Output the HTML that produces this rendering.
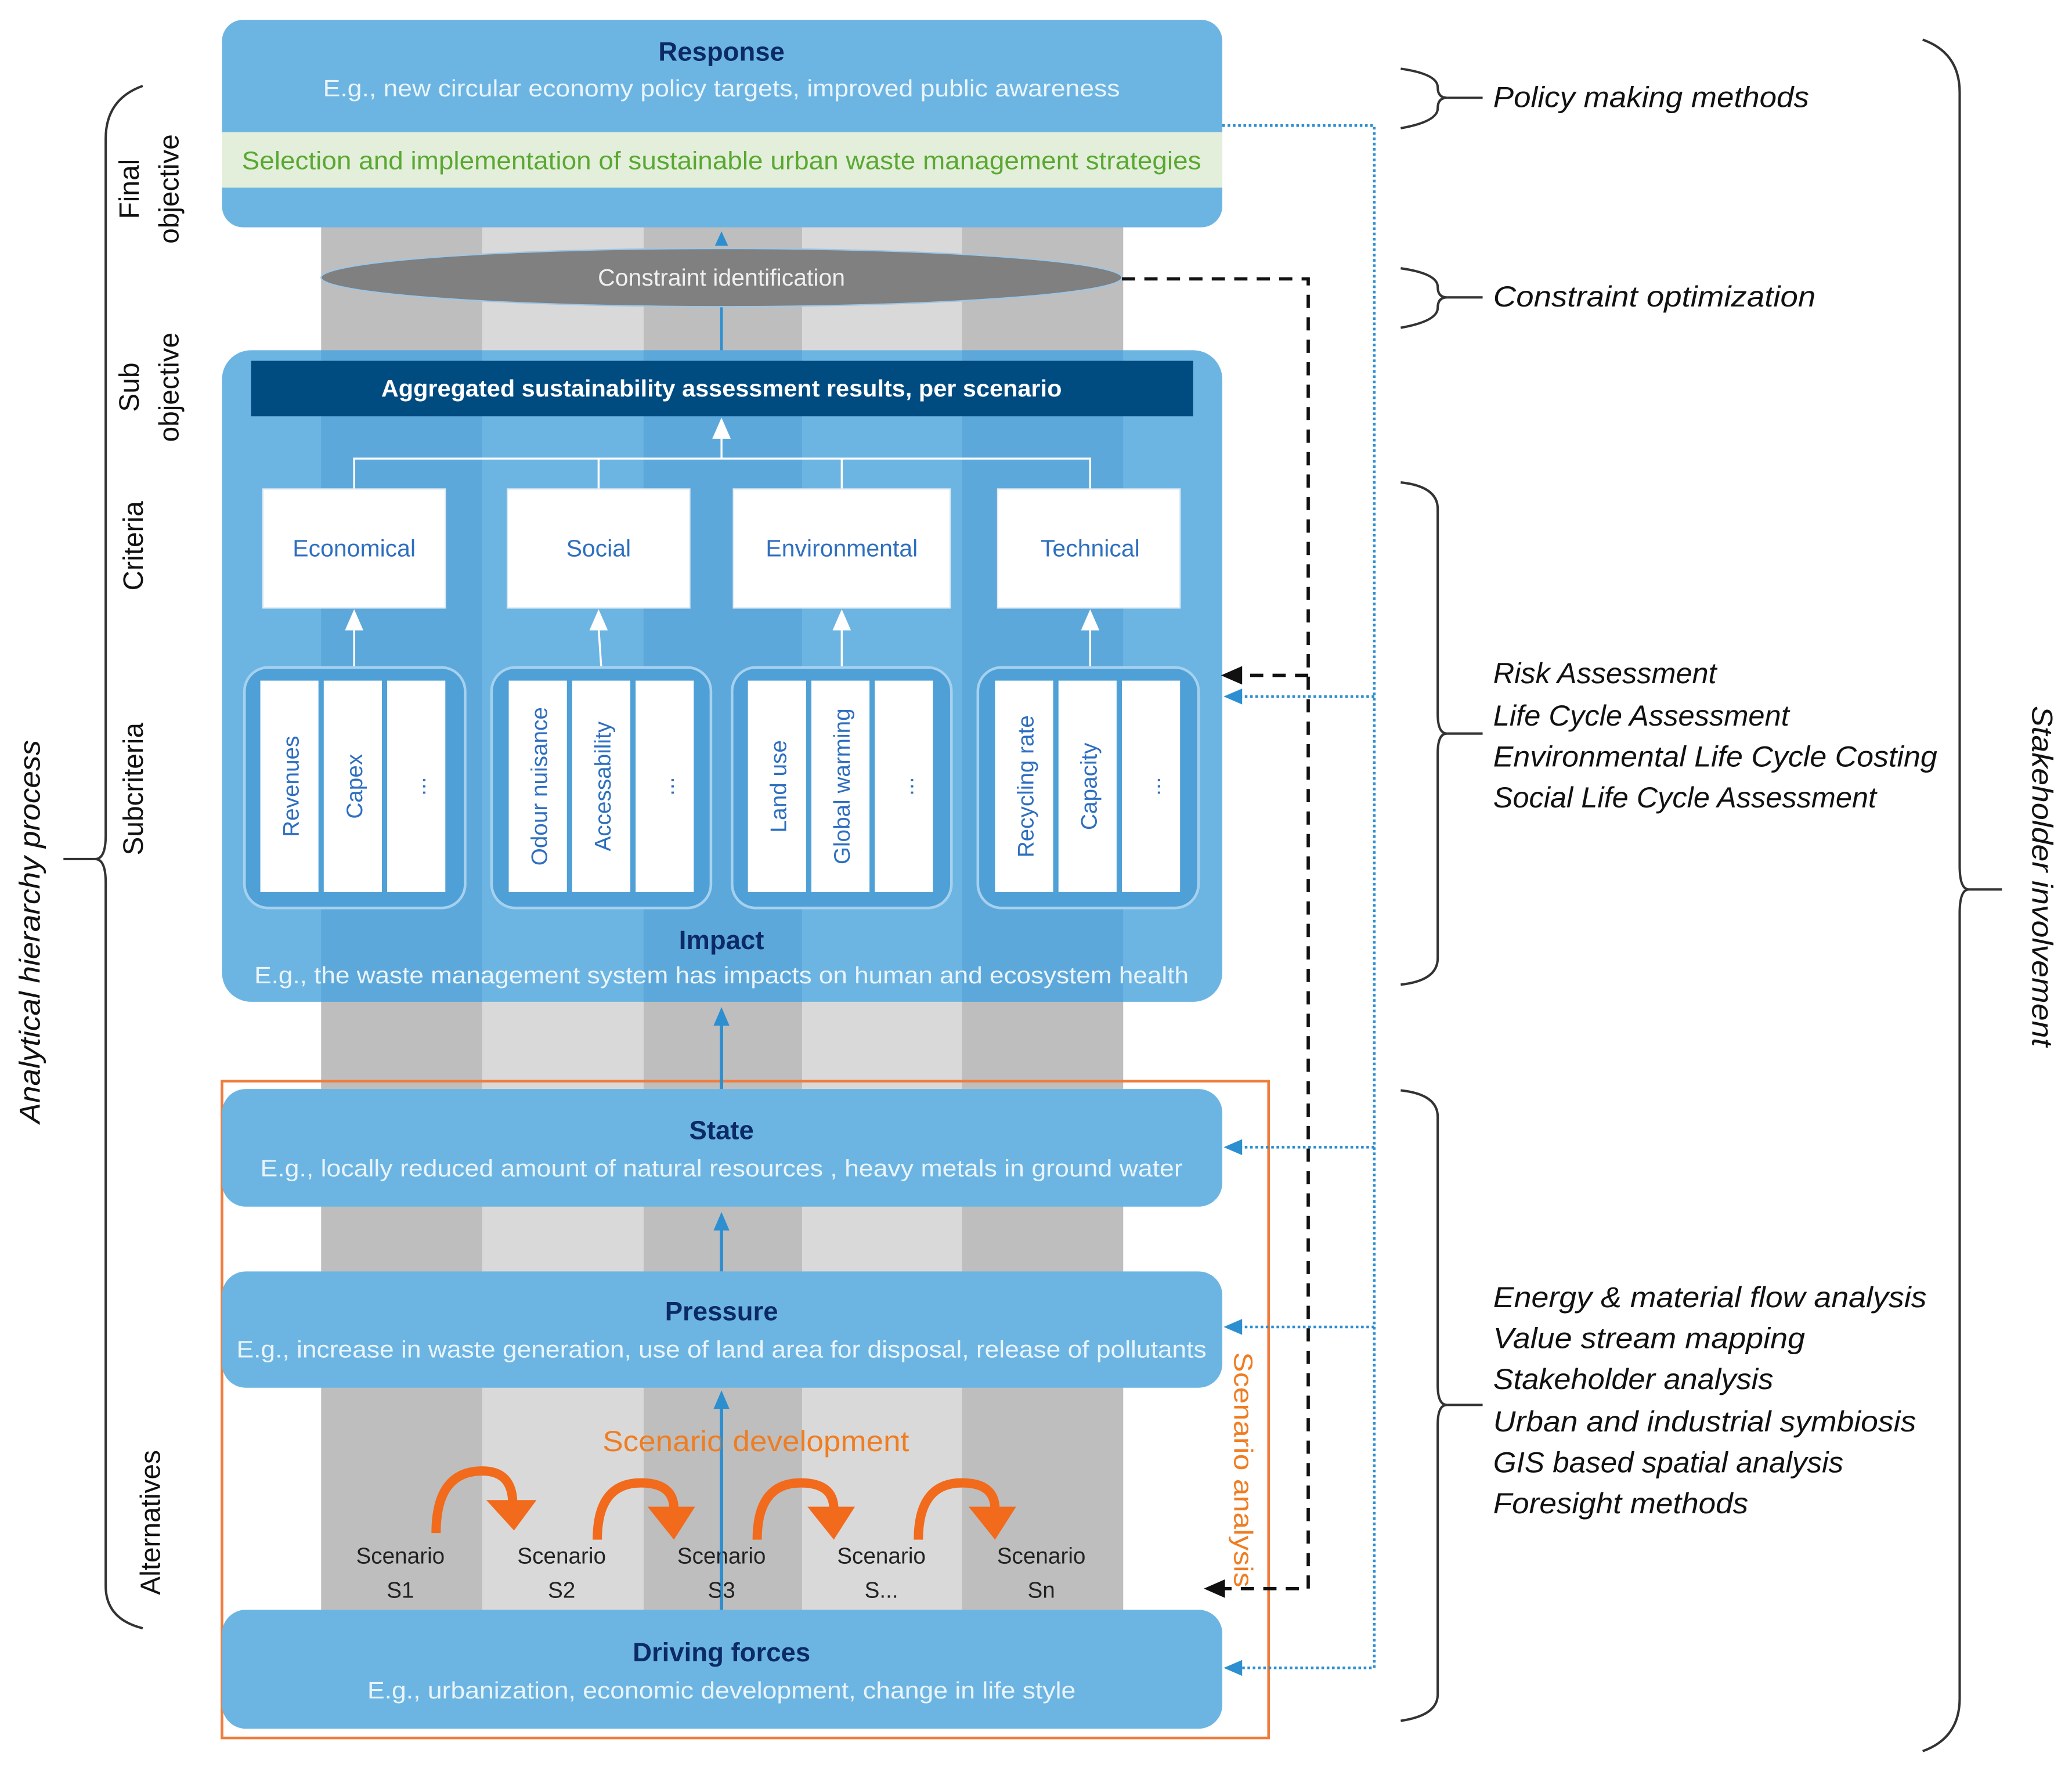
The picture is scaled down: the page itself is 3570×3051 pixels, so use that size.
<!DOCTYPE html>
<html><head><meta charset="utf-8"><style>
html,body{margin:0;padding:0;background:#fff}
svg{display:block}
text{font-family:"Liberation Sans",sans-serif}
</style></head><body>
<svg width="3570" height="3051" viewBox="0 0 1568 1340" preserveAspectRatio="none" xmlns="http://www.w3.org/2000/svg">
<!-- stripes -->
<rect x="243" y="165" width="122" height="1060" fill="#bebebe"/>
<rect x="365" y="165" width="122" height="1060" fill="#d9d9d9"/>
<rect x="487" y="165" width="120" height="1060" fill="#bebebe"/>
<rect x="607" y="165" width="121" height="1060" fill="#d9d9d9"/>
<rect x="728" y="165" width="122" height="1060" fill="#bebebe"/>

<rect x="168" y="818" width="792" height="497" fill="none" stroke="#f07c3c" stroke-width="2"/>

<!-- Response -->
<rect x="168" y="15" width="757" height="157" rx="16" fill="#6cb5e3"/>
<rect x="168" y="100" width="757" height="42" fill="#e3efda"/>
<text x="546" y="46" text-anchor="middle" font-size="20" font-weight="bold" fill="#0b2a66">Response</text>
<text x="546" y="73" text-anchor="middle" font-size="18" fill="#eaf4fb" textLength="603" lengthAdjust="spacingAndGlyphs">E.g., new circular economy policy targets, improved public awareness</text>
<text x="546" y="128" text-anchor="middle" font-size="19" fill="#5aa832" textLength="726" lengthAdjust="spacingAndGlyphs">Selection and implementation of sustainable urban waste management strategies</text>

<!-- ellipse -->
<line x1="546" y1="232" x2="546" y2="268" stroke="#2d8fd0" stroke-width="2"/>
<path d="M541,186 L546,175 L551,186 Z" fill="#2d8fd0"/>
<ellipse cx="546" cy="210" rx="303" ry="22" fill="#808080" stroke="#9dc6e6" stroke-width="1"/>
<text x="546" y="216" text-anchor="middle" font-size="18" fill="#f0f0f0">Constraint identification</text>

<!-- Impact -->
<rect x="168" y="265" width="757" height="493" rx="22" fill="#6cb5e3"/>
<rect x="243" y="265" width="122" height="493" fill="#5aa5d8" opacity="0.8"/>
<rect x="487" y="265" width="120" height="493" fill="#5aa5d8" opacity="0.8"/>
<rect x="728" y="265" width="122" height="493" fill="#5aa5d8" opacity="0.8"/>
<rect x="190" y="273" width="713" height="42" fill="#004b80"/>
<text x="546" y="300" text-anchor="middle" font-size="18" font-weight="bold" fill="#fff" textLength="515" lengthAdjust="spacingAndGlyphs">Aggregated sustainability assessment results, per scenario</text>
<path d="M268,370 V347 H825 V370 M453,347 V370 M637,347 V370 M546,347 V328" fill="none" stroke="#fff" stroke-width="1.5"/>
<g fill="#fff">
<path d="M539,332 L546,316 L553,332 Z"/>
<path d="M261,477 L268,461 L275,477 Z"/>
<path d="M446,477 L453,461 L460,477 Z"/>
<path d="M630,477 L637,461 L644,477 Z"/>
<path d="M818,477 L825,461 L832,477 Z"/>
</g>
<g fill="#fff" stroke="#dfe9f2" stroke-width="1">
<rect x="199" y="370" width="138" height="90"/>
<rect x="384" y="370" width="138" height="90"/>
<rect x="555" y="370" width="164" height="90"/>
<rect x="755" y="370" width="138" height="90"/>
</g>
<g font-size="18" fill="#2e6fbf" text-anchor="middle">
<text x="268" y="421">Economical</text>
<text x="453" y="421">Social</text>
<text x="637" y="421">Environmental</text>
<text x="825" y="421">Technical</text>
</g>
<g stroke="#fff" stroke-width="1.5">
<line x1="268" y1="505" x2="268" y2="475"/>
<line x1="455" y1="505" x2="453" y2="475"/>
<line x1="637" y1="505" x2="637" y2="475"/>
<line x1="825" y1="505" x2="825" y2="475"/>
</g>
<g fill="#4fa0d6" stroke="#a6d1ee" stroke-width="2">
<rect x="185" y="505" width="167" height="182" rx="18"/>
<rect x="372" y="505" width="166" height="182" rx="18"/>
<rect x="554" y="505" width="166" height="182" rx="18"/>
<rect x="740" y="505" width="167" height="182" rx="18"/>
</g>
<g fill="#fff">
<rect x="197" y="515" width="44" height="160"/><rect x="245" y="515" width="44" height="160"/><rect x="293" y="515" width="44" height="160"/>
<rect x="385" y="515" width="44" height="160"/><rect x="433" y="515" width="44" height="160"/><rect x="481" y="515" width="44" height="160"/>
<rect x="566" y="515" width="44" height="160"/><rect x="614" y="515" width="44" height="160"/><rect x="662" y="515" width="44" height="160"/>
<rect x="753" y="515" width="44" height="160"/><rect x="801" y="515" width="44" height="160"/><rect x="849" y="515" width="44" height="160"/>
</g>
<g font-size="17" fill="#2e6fbf" text-anchor="middle">
<text transform="translate(226,595) rotate(-90)">Revenues</text>
<text transform="translate(274,595) rotate(-90)">Capex</text>
<text transform="translate(322,595) rotate(-90)">...</text>
<text transform="translate(414,595) rotate(-90)">Odour nuisance</text>
<text transform="translate(462,595) rotate(-90)">Accessability</text>
<text transform="translate(510,595) rotate(-90)">...</text>
<text transform="translate(595,595) rotate(-90)">Land use</text>
<text transform="translate(643,595) rotate(-90)">Global warming</text>
<text transform="translate(691,595) rotate(-90)">...</text>
<text transform="translate(782,595) rotate(-90)">Recycling rate</text>
<text transform="translate(830,595) rotate(-90)">Capacity</text>
<text transform="translate(878,595) rotate(-90)">...</text>
</g>
<text x="546" y="718" text-anchor="middle" font-size="20" font-weight="bold" fill="#0b2a66">Impact</text>
<text x="546" y="744" text-anchor="middle" font-size="18" fill="#eaf4fb" textLength="707" lengthAdjust="spacingAndGlyphs">E.g., the waste management system has impacts on human and ecosystem health</text>

<!-- blue vertical arrows -->
<g stroke="#2d8fd0" stroke-width="2.5">
<line x1="546" y1="824" x2="546" y2="775"/>
<line x1="546" y1="962" x2="546" y2="930"/>
<line x1="546" y1="1218" x2="546" y2="1065"/>
</g>
<g fill="#2d8fd0">
<path d="M540,776 L546,762 L552,776 Z"/>
<path d="M540,931 L546,917 L552,931 Z"/>
<path d="M540,1066 L546,1052 L552,1066 Z"/>
</g>

<!-- State -->
<rect x="168" y="824" width="757" height="89" rx="18" fill="#6cb5e3"/>
<text x="546" y="862" text-anchor="middle" font-size="20" font-weight="bold" fill="#0b2a66">State</text>
<text x="546" y="890" text-anchor="middle" font-size="18" fill="#eaf4fb" textLength="698" lengthAdjust="spacingAndGlyphs">E.g., locally reduced amount of natural resources , heavy metals in ground water</text>
<!-- Pressure -->
<rect x="168" y="962" width="757" height="88" rx="18" fill="#6cb5e3"/>
<text x="546" y="999" text-anchor="middle" font-size="20" font-weight="bold" fill="#0b2a66">Pressure</text>
<text x="546" y="1027" text-anchor="middle" font-size="18" fill="#eaf4fb" textLength="734" lengthAdjust="spacingAndGlyphs">E.g., increase in waste generation, use of land area for disposal, release of pollutants</text>

<!-- Scenario development -->
<text x="572" y="1098" text-anchor="middle" font-size="22" fill="#ef7d22" textLength="232" lengthAdjust="spacingAndGlyphs">Scenario development</text>
<g fill="none" stroke="#f26a1b" stroke-width="7">
<path d="M330,1160 Q330,1113 365,1113 Q388,1113 388,1138"/>
<path d="M452,1165 Q452,1122 485,1122 Q510,1122 510,1142"/>
<path d="M573,1165 Q573,1122 606,1122 Q631,1122 631,1142"/>
<path d="M695,1165 Q695,1122 728,1122 Q753,1122 753,1142"/>
</g>
<g fill="#f26a1b">
<path d="M368,1135 L406,1135 L389,1158 Z"/>
<path d="M490,1140 L526,1140 L510,1165 Z"/>
<path d="M611,1140 L647,1140 L631,1165 Z"/>
<path d="M733,1140 L769,1140 L753,1165 Z"/>
</g>
<g font-size="17" fill="#222" text-anchor="middle">
<text x="303" y="1183">Scenario</text><text x="303" y="1209">S1</text>
<text x="425" y="1183">Scenario</text><text x="425" y="1209">S2</text>
<text x="546" y="1183">Scenario</text><text x="546" y="1209">S3</text>
<text x="667" y="1183">Scenario</text><text x="667" y="1209">S...</text>
<text x="788" y="1183">Scenario</text><text x="788" y="1209">Sn</text>
</g>
<line x1="546" y1="1218" x2="546" y2="1065" stroke="#2d8fd0" stroke-width="1.5"/>

<!-- Driving forces -->
<rect x="168" y="1218" width="757" height="90" rx="18" fill="#6cb5e3"/>
<text x="546" y="1257" text-anchor="middle" font-size="20" font-weight="bold" fill="#0b2a66">Driving forces</text>
<text x="546" y="1285" text-anchor="middle" font-size="18" fill="#eaf4fb" textLength="536" lengthAdjust="spacingAndGlyphs">E.g., urbanization, economic development, change in life style</text>

<text transform="translate(934,1112) rotate(90)" text-anchor="middle" font-size="20" fill="#ef7d22" textLength="178" lengthAdjust="spacingAndGlyphs">Scenario analysis</text>

<!-- blue dotted connectors -->
<g stroke="#2d8fd0" stroke-width="2" stroke-dasharray="2,2" fill="none">
<path d="M925,95 H1040 V1262 H935"/>
<path d="M1040,527 H935"/>
<path d="M1040,868 H935"/>
<path d="M1040,1004 H935"/>
</g>
<g fill="#2d8fd0">
<path d="M926,527 L940,521 L940,533 Z"/>
<path d="M926,868 L940,862 L940,874 Z"/>
<path d="M926,1004 L940,998 L940,1010 Z"/>
<path d="M926,1262 L940,1256 L940,1268 Z"/>
</g>
<g stroke="#111" stroke-width="2.5" stroke-dasharray="10,7" fill="none">
<path d="M849,211 H990 V1202 H925"/>
<path d="M990,511 H940"/>
</g>
<g fill="#111">
<path d="M924,511 L940,504 L940,518 Z"/>
<path d="M911,1202 L927,1195 L927,1209 Z"/>
</g>

<!-- braces -->
<g fill="none" stroke="#333" stroke-width="1.8">
<path d="M1060,52 Q1088,56 1088,66 Q1088,74 1095,74 Q1088,74 1088,82 Q1088,92 1060,97"/>
<line x1="1095" y1="74" x2="1122" y2="74"/>
<path d="M1060,203 Q1088,207 1088,217 Q1088,225 1095,225 Q1088,225 1088,233 Q1088,243 1060,248"/>
<line x1="1095" y1="225" x2="1122" y2="225"/>
<path d="M1060,365 Q1088,368 1088,385 L1088,540 Q1088,555 1095,555 Q1088,555 1088,570 L1088,725 Q1088,742 1060,745"/>
<line x1="1095" y1="555" x2="1122" y2="555"/>
<path d="M1060,825 Q1088,828 1088,845 L1088,1048 Q1088,1063 1095,1063 Q1088,1063 1088,1078 L1088,1282 Q1088,1298 1060,1302"/>
<line x1="1095" y1="1063" x2="1122" y2="1063"/>
<path d="M1455,30 Q1483,40 1483,70 L1483,655 Q1483,673 1490,673 Q1483,673 1483,691 L1483,1285 Q1483,1315 1455,1325"/>
<line x1="1490" y1="673" x2="1515" y2="673"/>
<path d="M108,65 Q80,75 80,105 L80,632 Q80,650 72,650 Q80,650 80,668 L80,1200 Q80,1225 108,1232"/>
<line x1="72" y1="650" x2="48" y2="650"/>
</g>

<g font-size="22" font-style="italic" fill="#111">
<text x="1130" y="81" textLength="239" lengthAdjust="spacingAndGlyphs">Policy making methods</text>
<text x="1130" y="232" textLength="244" lengthAdjust="spacingAndGlyphs">Constraint optimization</text>
<text x="1130" y="517" textLength="169" lengthAdjust="spacingAndGlyphs">Risk Assessment</text>
<text x="1130" y="549" textLength="224" lengthAdjust="spacingAndGlyphs">Life Cycle Assessment</text>
<text x="1130" y="580" textLength="336" lengthAdjust="spacingAndGlyphs">Environmental Life Cycle Costing</text>
<text x="1130" y="611" textLength="290" lengthAdjust="spacingAndGlyphs">Social Life Cycle Assessment</text>
<text x="1130" y="989" textLength="328" lengthAdjust="spacingAndGlyphs">Energy &amp; material flow analysis</text>
<text x="1130" y="1020" textLength="236" lengthAdjust="spacingAndGlyphs">Value stream mapping</text>
<text x="1130" y="1051" textLength="212" lengthAdjust="spacingAndGlyphs">Stakeholder analysis</text>
<text x="1130" y="1083" textLength="320" lengthAdjust="spacingAndGlyphs">Urban and industrial symbiosis</text>
<text x="1130" y="1114" textLength="265" lengthAdjust="spacingAndGlyphs">GIS based spatial analysis</text>
<text x="1130" y="1145" textLength="193" lengthAdjust="spacingAndGlyphs">Foresight methods</text>
<text transform="translate(1538,663) rotate(90)" text-anchor="middle" textLength="258" lengthAdjust="spacingAndGlyphs">Stakeholder involvement</text>
<text transform="translate(30,705) rotate(-90)" text-anchor="middle" textLength="290" lengthAdjust="spacingAndGlyphs">Analytical hierarchy process</text>
</g>

<g font-size="21" fill="#111" text-anchor="middle">
<text transform="translate(105,143) rotate(-90)">Final</text>
<text transform="translate(135,143) rotate(-90)">objective</text>
<text transform="translate(105,293) rotate(-90)">Sub</text>
<text transform="translate(135,293) rotate(-90)">objective</text>
<text transform="translate(108,413) rotate(-90)">Criteria</text>
<text transform="translate(108,597) rotate(-90)">Subcriteria</text>
<text transform="translate(121,1152) rotate(-90)">Alternatives</text>
</g>
</svg>
</body></html>
